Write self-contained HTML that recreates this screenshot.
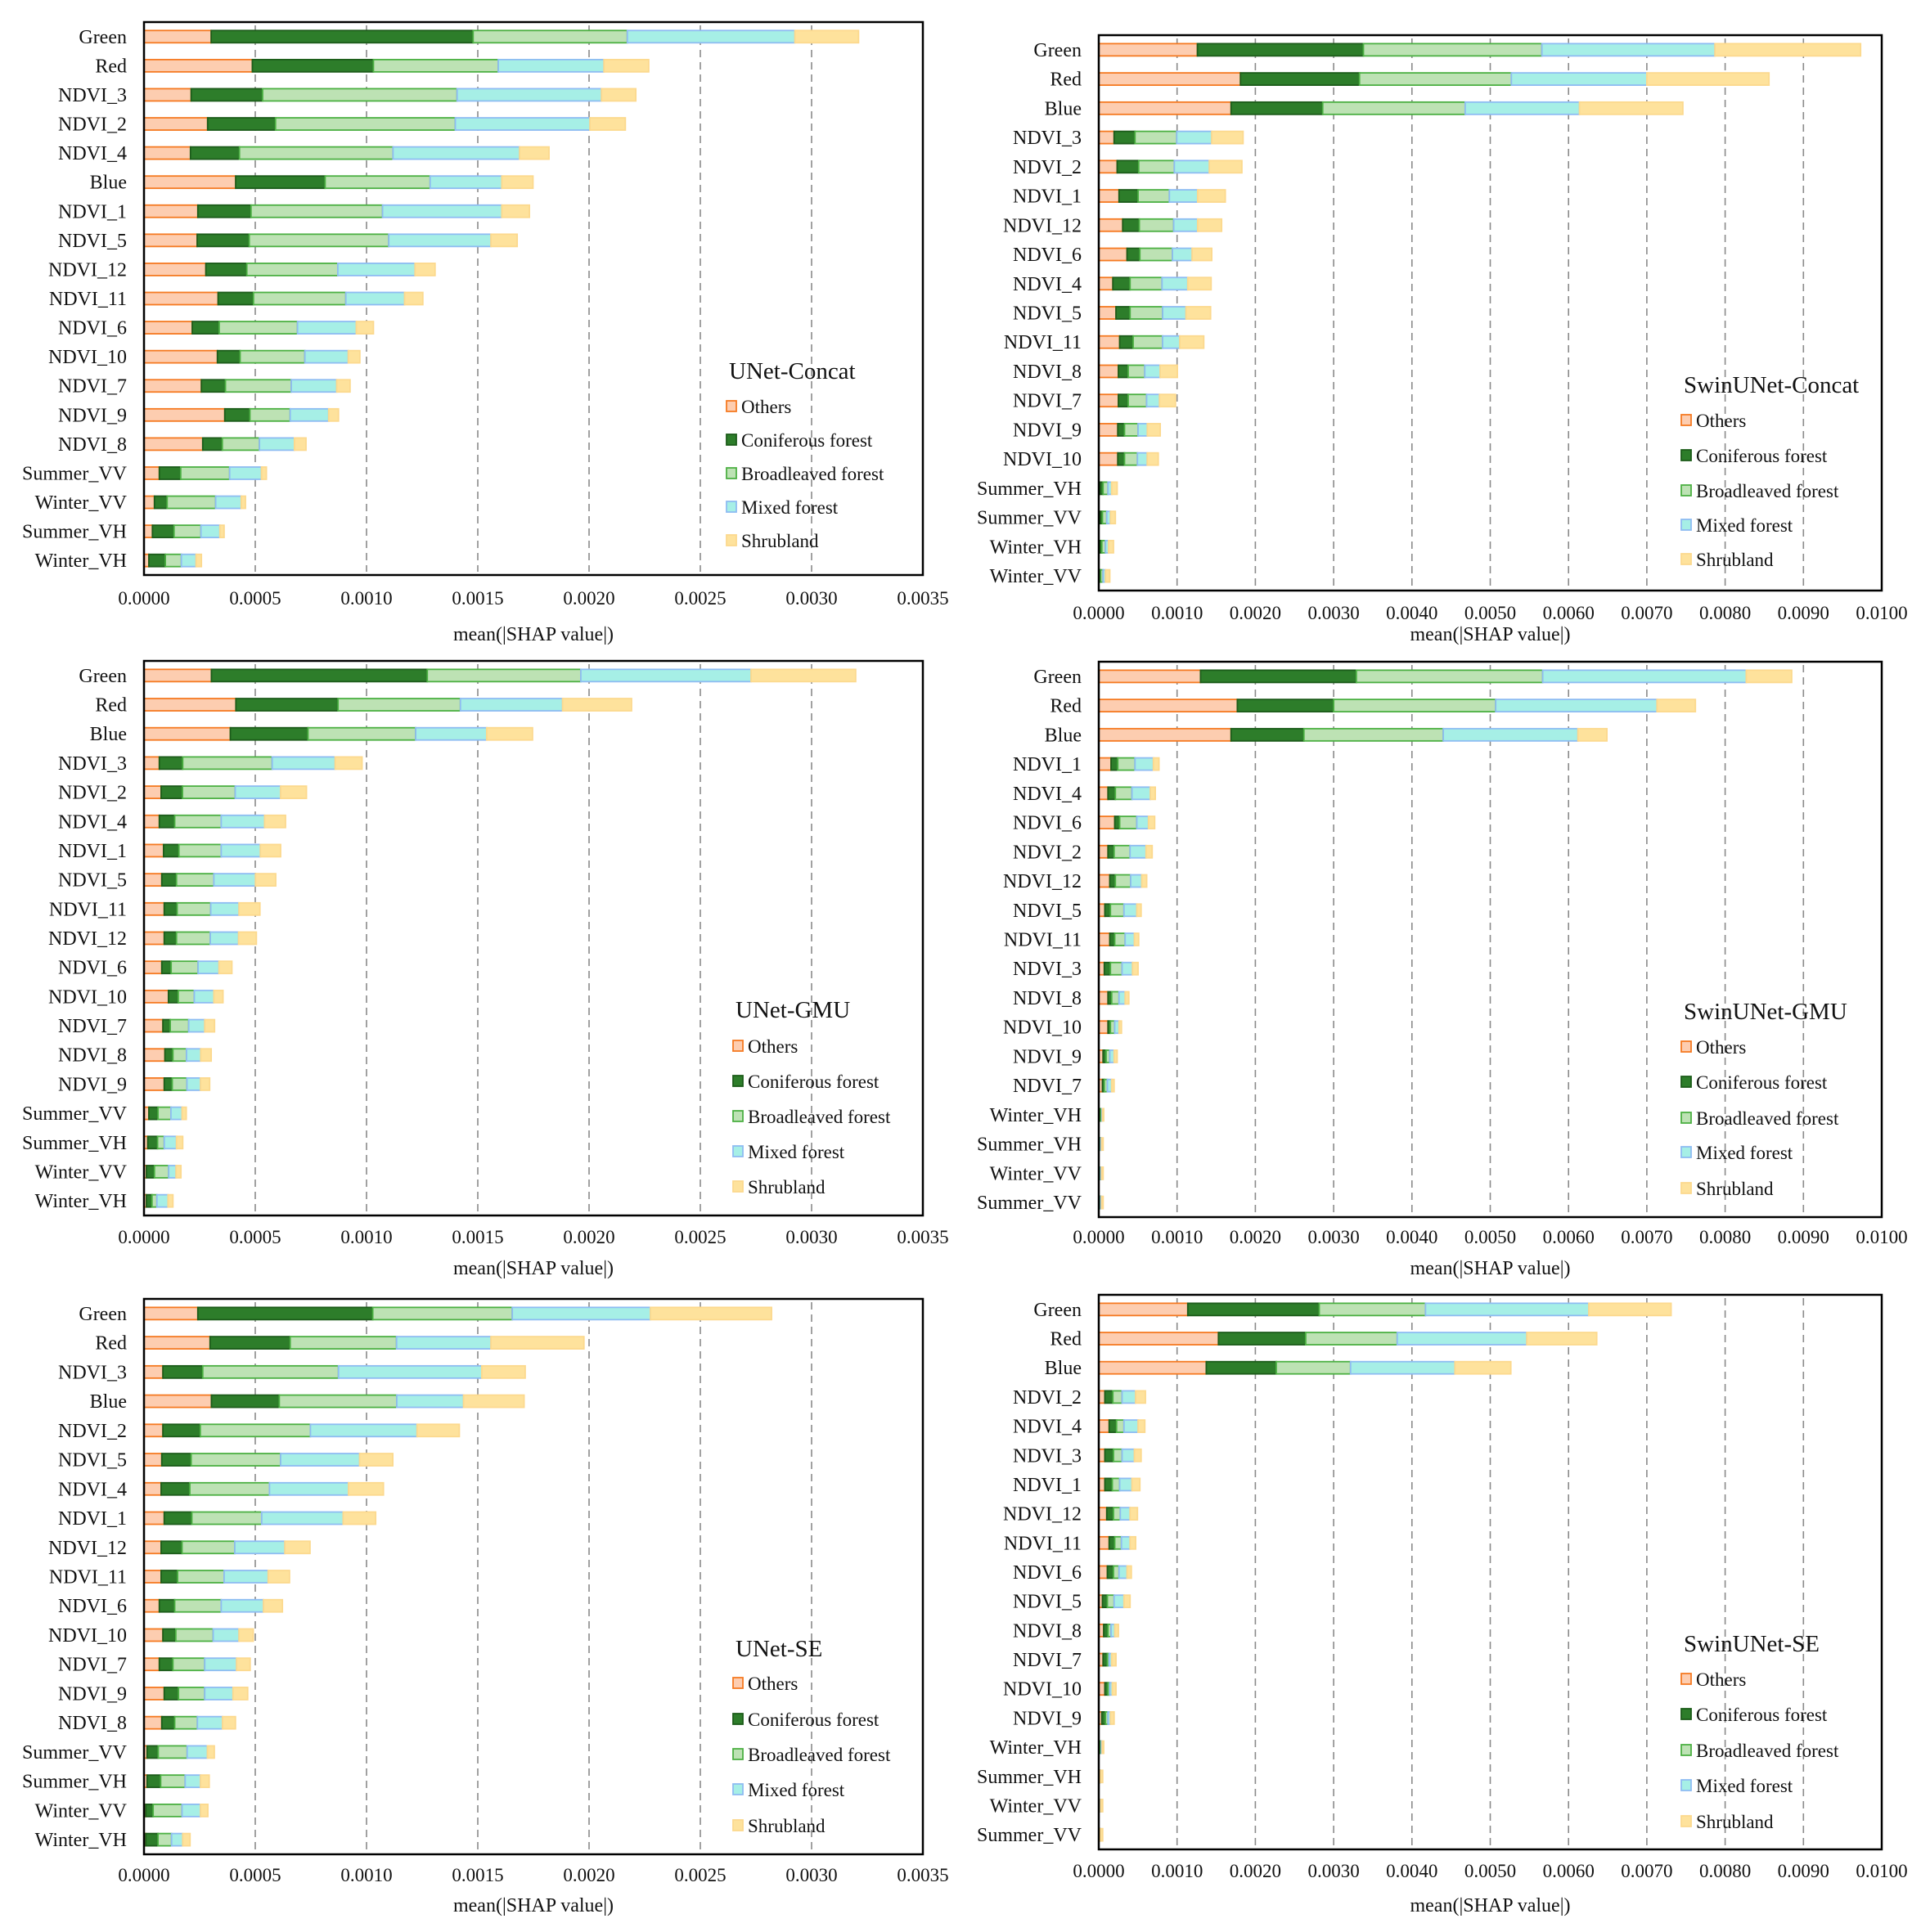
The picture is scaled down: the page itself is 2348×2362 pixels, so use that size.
<!DOCTYPE html>
<html><head><meta charset="utf-8"><style>
html,body{margin:0;padding:0;background:#fff;}
svg{display:block;font-family:"Liberation Serif",serif;}
</style></head><body>
<svg id="fig" width="2348" height="2362" viewBox="0 0 2348 2362" xmlns="http://www.w3.org/2000/svg"></svg>
<script>
// Values in units of 1e-4 (mean |SHAP|)
const seriesNames = ["Others","Coniferous forest","Broadleaved forest","Mixed forest","Shrubland"];
const ticksLeft = ["0.0000","0.0005","0.0010","0.0015","0.0020","0.0025","0.0030","0.0035"];
const ticksRight = ["0.0000","0.0010","0.0020","0.0030","0.0040","0.0050","0.0060","0.0070","0.0080","0.0090","0.0100"];

// Panel 1: UNet-Concat
const cats1 = ["Green","Red","NDVI_3","NDVI_2","NDVI_4","Blue","NDVI_1","NDVI_5","NDVI_12","NDVI_11","NDVI_6","NDVI_10","NDVI_7","NDVI_9","NDVI_8","Summer_VV","Winter_VV","Summer_VH","Winter_VH"];
const others1 = [3.02,4.87,2.12,2.86,2.09,4.12,2.42,2.39,2.78,3.33,2.17,3.30,2.58,3.63,2.64,0.69,0.47,0.38,0.22];
const conif1  = [11.77,5.44,3.21,3.05,2.20,4.02,2.39,2.34,1.84,1.59,1.21,1.02,1.08,1.13,0.88,0.96,0.57,0.97,0.74];
const broad1  = [6.93,5.61,8.74,8.08,6.90,4.72,5.91,6.27,4.09,4.15,3.52,2.91,2.96,1.81,1.67,2.20,2.18,1.21,0.72];
const mixed1  = [7.53,4.75,6.49,6.05,5.69,3.22,5.36,4.59,3.47,2.64,2.64,1.95,2.04,1.73,1.57,1.43,1.15,0.85,0.66];
const shrub1  = [2.86,2.01,1.54,1.59,1.32,1.40,1.24,1.18,0.90,0.82,0.77,0.52,0.60,0.44,0.52,0.22,0.19,0.19,0.24];

// Panel 2: SwinUNet-Concat
const cats2 = ["Green","Red","Blue","NDVI_3","NDVI_2","NDVI_1","NDVI_12","NDVI_6","NDVI_4","NDVI_5","NDVI_11","NDVI_8","NDVI_7","NDVI_9","NDVI_10","Summer_VH","Summer_VV","Winter_VH","Winter_VV"];
const others2 = [12.6,18.1,16.9,1.96,2.35,2.59,3.06,3.61,1.8,2.2,2.67,2.51,2.51,2.43,2.43,0.16,0.16,0.08,0.08];
const conif2  = [21.2,15.2,11.7,2.67,2.75,2.43,2.12,1.64,2.2,1.8,1.72,1.25,1.25,0.86,0.86,0.39,0.31,0.31,0.16];
const broad2  = [22.8,19.4,18.2,5.33,4.55,4.0,4.39,4.16,4.08,4.16,3.76,2.12,2.35,1.73,1.65,0.63,0.55,0.47,0.31];
const mixed2  = [22.1,17.3,14.6,4.47,4.47,3.61,3.06,2.51,3.29,2.98,2.2,1.96,1.65,1.18,1.25,0.47,0.47,0.39,0.31];
const shrub2  = [18.6,15.6,13.2,4.0,4.16,3.53,3.06,2.51,2.98,3.14,3.06,2.2,2.04,1.65,1.41,0.7,0.63,0.63,0.55];

// Panel 3: UNet-GMU
const cats3 = ["Green","Red","Blue","NDVI_3","NDVI_2","NDVI_4","NDVI_1","NDVI_5","NDVI_11","NDVI_12","NDVI_6","NDVI_10","NDVI_7","NDVI_8","NDVI_9","Summer_VV","Summer_VH","Winter_VV","Winter_VH"];
const others3 = [3.03,4.13,3.88,0.69,0.77,0.69,0.88,0.8,0.91,0.91,0.8,1.1,0.85,0.94,0.91,0.22,0.17,0.11,0.11];
const conif3  = [9.7,4.59,3.49,1.05,0.96,0.69,0.69,0.66,0.58,0.55,0.42,0.44,0.33,0.36,0.36,0.41,0.44,0.36,0.25];
const broad3  = [6.9,5.5,4.84,4.02,2.37,2.09,1.9,1.68,1.51,1.52,1.21,0.72,0.83,0.61,0.66,0.58,0.3,0.64,0.22];
const mixed3  = [7.65,4.59,3.19,2.83,2.04,1.95,1.76,1.87,1.27,1.27,0.94,0.88,0.72,0.64,0.61,0.5,0.55,0.33,0.5];
const shrub3  = [4.7,3.1,2.06,1.21,1.16,0.94,0.91,0.91,0.94,0.8,0.58,0.41,0.44,0.47,0.41,0.19,0.28,0.22,0.22];

// Panel 4: SwinUNet-GMU
const cats4 = ["Green","Red","Blue","NDVI_1","NDVI_4","NDVI_6","NDVI_2","NDVI_12","NDVI_5","NDVI_11","NDVI_3","NDVI_8","NDVI_10","NDVI_9","NDVI_7","Winter_VH","Summer_VH","Winter_VV","Summer_VV"];
const others4 = [13.0,17.7,16.9,1.57,1.18,2.04,1.18,1.41,0.78,1.41,0.71,1.18,1.18,0.55,0.47,0.08,0.08,0.08,0.08];
const conif4  = [19.9,12.3,9.3,0.86,0.94,0.63,0.78,0.71,0.71,0.63,0.78,0.47,0.31,0.39,0.24,0.16,0.08,0.08,0.08];
const broad4  = [23.8,20.7,17.8,2.2,2.12,2.19,2.04,1.96,1.73,1.33,1.49,0.94,0.55,0.47,0.39,0.15,0.1,0.1,0.1];
const mixed4  = [26.0,20.6,17.2,2.35,2.35,1.49,2.04,1.41,1.64,1.18,1.33,0.78,0.55,0.55,0.55,0.08,0.1,0.1,0.1];
const shrub4  = [5.8,4.9,3.7,0.71,0.63,0.79,0.78,0.63,0.55,0.55,0.71,0.47,0.31,0.39,0.31,0.16,0.2,0.2,0.2];

// Panel 5: UNet-SE
const cats5 = ["Green","Red","NDVI_3","Blue","NDVI_2","NDVI_5","NDVI_4","NDVI_1","NDVI_12","NDVI_11","NDVI_6","NDVI_10","NDVI_7","NDVI_9","NDVI_8","Summer_VV","Summer_VH","Winter_VV","Winter_VH"];
const others5 = [2.42,2.97,0.85,3.03,0.85,0.8,0.77,0.91,0.77,0.77,0.69,0.85,0.69,0.91,0.8,0.14,0.14,0.08,0.08];
const conif5  = [7.86,3.6,1.79,3.05,1.68,1.32,1.29,1.24,0.94,0.74,0.69,0.58,0.61,0.64,0.58,0.5,0.61,0.33,0.55];
const broad5  = [6.27,4.78,6.1,5.28,4.95,4.02,3.58,3.14,2.37,2.09,2.09,1.68,1.43,1.18,1.02,1.3,1.1,1.3,0.61];
const mixed5  = [6.21,4.24,6.44,3.0,4.79,3.55,3.55,3.66,2.25,1.98,1.9,1.16,1.43,1.27,1.13,0.91,0.69,0.83,0.5];
const shrub5  = [5.44,4.18,1.95,2.72,1.9,1.49,1.57,1.46,1.13,0.96,0.85,0.64,0.61,0.66,0.58,0.31,0.39,0.33,0.33];

// Panel 6: SwinUNet-SE
const cats6 = ["Green","Red","Blue","NDVI_2","NDVI_4","NDVI_3","NDVI_1","NDVI_12","NDVI_11","NDVI_6","NDVI_5","NDVI_8","NDVI_7","NDVI_10","NDVI_9","Winter_VH","Summer_VH","Winter_VV","Summer_VV"];
const others6 = [11.37,15.29,13.73,0.78,1.33,0.78,0.78,1.02,1.33,1.1,0.47,0.63,0.55,0.78,0.39,0.08,0.05,0.05,0.05];
const conif6  = [16.79,11.14,8.94,1.02,0.94,1.1,0.95,0.86,0.71,0.78,0.63,0.55,0.55,0.4,0.47,0.1,0.05,0.1,0.05];
const broad6  = [13.57,11.69,9.49,1.18,0.95,1.1,0.94,0.87,0.86,0.71,0.86,0.39,0.23,0.23,0.32,0.15,0.05,0.05,0.05];
const mixed6  = [20.86,16.55,13.33,1.73,1.8,1.57,1.57,1.25,1.1,1.02,1.26,0.47,0.32,0.32,0.31,0.1,0.05,0.05,0.05];
const shrub6  = [10.51,8.93,7.14,1.25,0.86,0.86,1.01,0.94,0.71,0.55,0.78,0.47,0.55,0.47,0.47,0.2,0.3,0.25,0.3];

const NS = "http://www.w3.org/2000/svg";
const fills = ["#fdcdb0","#2d7d2a","#bde2b4","#a6efe6","#fee29c"];
const strokes = ["#f57a22","#1c5c1a","#4cb043","#8ebcf2","#fcd98e"];

function mk(tag, attrs, parent){
  const el = document.createElementNS(NS, tag);
  for (const k in attrs) el.setAttribute(k, attrs[k]);
  parent.appendChild(el);
  return el;
}

const panels = [
  {title:"UNet-Concat", cats:cats1, s:[others1,conif1,broad1,mixed1,shrub1], max:35, ticks:ticksLeft, x0:176,x1:1128,y0:27,y1:703, tickY:739, labY:783, lx:887, ly:463, ley:[505,546,587,628,669]},
  {title:"SwinUNet-Concat", cats:cats2, s:[others2,conif2,broad2,mixed2,shrub2], max:100, ticks:ticksRight, x0:1343,x1:2300,y0:43,y1:722, tickY:757, labY:783, lx:2054, ly:480, ley:[522,565,608,650,692]},
  {title:"UNet-GMU", cats:cats3, s:[others3,conif3,broad3,mixed3,shrub3], max:35, ticks:ticksLeft, x0:176,x1:1128,y0:808,y1:1486, tickY:1520, labY:1558, lx:895, ly:1244, ley:[1287,1330,1373,1416,1459]},
  {title:"SwinUNet-GMU", cats:cats4, s:[others4,conif4,broad4,mixed4,shrub4], max:100, ticks:ticksRight, x0:1343,x1:2300,y0:809,y1:1488, tickY:1520, labY:1558, lx:2054, ly:1246, ley:[1288,1331,1375,1417,1461]},
  {title:"UNet-SE", cats:cats5, s:[others5,conif5,broad5,mixed5,shrub5], max:35, ticks:ticksLeft, x0:176,x1:1128,y0:1588,y1:2267, tickY:2300, labY:2337, lx:895, ly:2025, ley:[2066,2110,2153,2196,2240]},
  {title:"SwinUNet-SE", cats:cats6, s:[others6,conif6,broad6,mixed6,shrub6], max:100, ticks:ticksRight, x0:1343,x1:2300,y0:1583,y1:2261, tickY:2295, labY:2337, lx:2054, ly:2019, ley:[2061,2104,2148,2191,2235]}
];

const svg = document.getElementById("fig");
panels.forEach((p, pi) => {
  const g = mk("g", {}, svg);
  
  
  const xs = v => p.x0 + (v / p.max) * (p.x1 - p.x0);
  const band = (p.y1 - p.y0) / p.cats.length;
  const nT = p.ticks.length;
  for (let i = 1; i < nT - 1; i++) {
    const x = p.x0 + i * (p.x1 - p.x0) / (nT - 1);
    const gl = mk("line", {x1:x, x2:x, y1:p.y0+4, y2:p.y1-4, stroke:"#8a8a8a", "stroke-width":1.6, "stroke-dasharray":"9,6"}, g);
    
    
  }
  for (let i = 0; i < nT; i++) {
    const x = p.x0 + i * (p.x1 - p.x0) / (nT - 1);
    const t = mk("text", {x:x, y:p.tickY, "text-anchor":"middle", "font-size":23, fill:"#111"}, g);
    t.textContent = p.ticks[i];
    
    
  }
  const xl = mk("text", {x:(p.x0+p.x1)/2, y:p.labY, "text-anchor":"middle", "font-size":24, fill:"#111"}, g);
  xl.textContent = "mean(|SHAP value|)";
  
  
  p.cats.forEach((c, i) => {
    const cy = p.y0 + band * (i + 0.5);
    const h = 15;
    const lab = mk("text", {x:p.x0 - 21, y:cy + 8, "text-anchor":"end", "font-size":24, fill:"#111"}, g);
    lab.textContent = c;
    
    
    let acc = 0;
    p.s.forEach((arr, si) => {
      const v = arr[i];
      const xa = xs(acc), xb = xs(acc + v);
      acc += v;
      const r = mk("rect", {x:xa, y:cy - h/2, width:Math.max(0.5, xb - xa), height:h, fill:fills[si], stroke:strokes[si], "stroke-width":1.8}, g);
      
      
    });
  });
  const fr = mk("rect", {x:p.x0, y:p.y0, width:p.x1-p.x0, height:p.y1-p.y0, fill:"none", stroke:"#000", "stroke-width":2.5}, g);
  
  
  const lg = mk("g", {}, g);
  
  
  const tt = mk("text", {x:p.lx + 4, y:p.ly, "font-size":29, fill:"#111"}, lg);
  tt.textContent = p.title;
  
  
  seriesNames.forEach((n, si) => {
    const yb = p.ley[si];
    const sw = mk("rect", {x:p.lx + 1, y:yb - 15, width:12, height:13, fill:fills[si], stroke:strokes[si], "stroke-width":1.8}, lg);
    
    
    const lt = mk("text", {x:p.lx + 19, y:yb, "font-size":23, fill:"#111"}, lg);
    lt.textContent = n;
    
    
  });
});
</script>
</body></html>
